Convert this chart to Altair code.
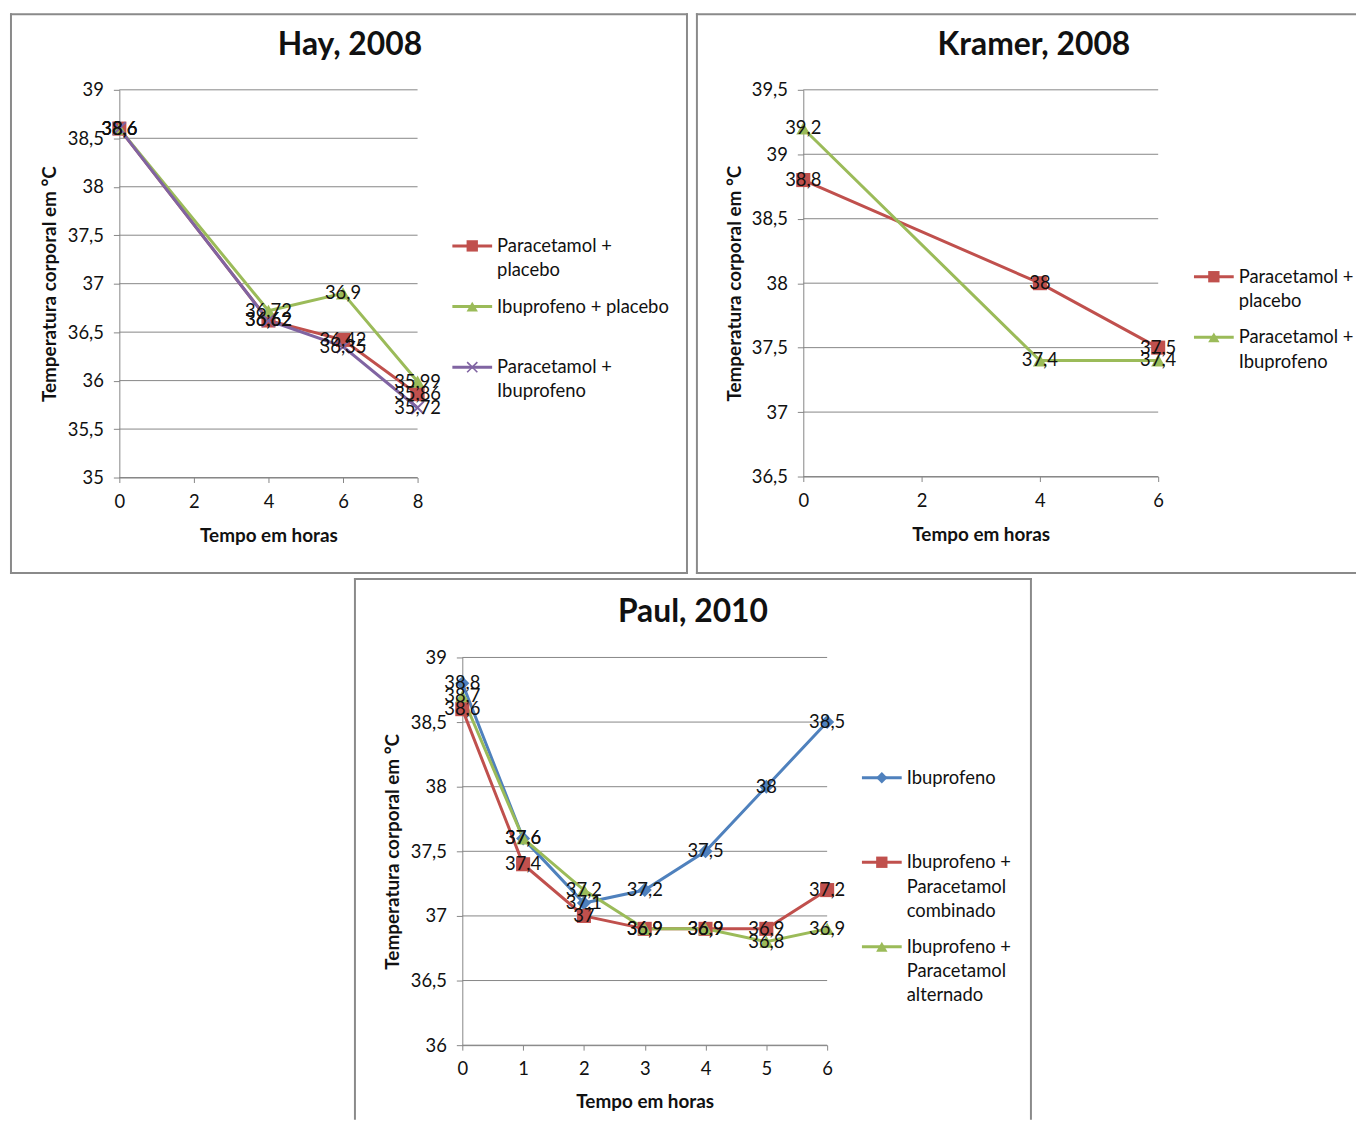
import altair as alt
import pandas as pd

FONT = "Lato"
RED, GREEN, PURPLE, BLUE = "#C0504D", "#9BBB59", "#8064A2", "#4F81BD"
GRAY = "#868686"
BORDER = "#8a8a8a"
XPATH = "M-1,-0.8L-0.8,-1L0,-0.2L0.8,-1L1,-0.8L0.2,0L1,0.8L0.8,1L0,0.2L-0.8,1L-1,0.8L-0.2,0Z"

# ---------------- data ----------------
hay_t = [0, 4, 6, 8]
hay_names = ["Paracetamol + placebo", "Ibuprofeno + placebo", "Paracetamol + Ibuprofeno"]
hay_pp = [38.6, 36.62, 36.42, 35.86]
hay_ip = [38.6, 36.72, 36.9, 35.99]
hay_pi = [38.6, 36.62, 36.35, 35.72]
hay_legend = ["Paracetamol +\nplacebo", "Ibuprofeno + placebo", "Paracetamol +\nIbuprofeno"]

kra_t = [0, 4, 6]
kra_names = ["Paracetamol + placebo", "Paracetamol + Ibuprofeno"]
kra_pp = [38.8, 38.0, 37.5]
kra_pi = [39.2, 37.4, 37.4]
kra_legend = ["Paracetamol +\nplacebo", "Paracetamol +\nIbuprofeno"]

paul_t = [0, 1, 2, 3, 4, 5, 6]
paul_names = ["Ibuprofeno", "Ibuprofeno + Paracetamol combinado", "Ibuprofeno + Paracetamol alternado"]
paul_i = [38.8, 37.6, 37.1, 37.2, 37.5, 38.0, 38.5]
paul_ipc = [38.6, 37.4, 37.0, 36.9, 36.9, 36.9, 37.2]
paul_ipa = [38.7, 37.6, 37.2, 36.9, 36.9, 36.8, 36.9]
paul_legend = ["Ibuprofeno", "Ibuprofeno +\nParacetamol\ncombinado", "Ibuprofeno +\nParacetamol\nalternado"]

LABEL_EXPR = "replace(format(datum.value, '.1~f'), '.', ',')"
TICK_FS = 18.5
DATA_FS = 18.5
LEG_FS = 18.5
AXT_FS = 19
TITLE_FS = 32
DY = -4  # vertical nudge of panel contents (not of the borders)


def one():
    return pd.DataFrame({"k": [0]})


def panel(title, t, names, vals, colors, shapes, legend_labels,
          xdom, xticks, ydom, yticks, L):
    rows = []
    for n, v in zip(names, vals):
        for ti, vi in zip(t, v):
            rows.append({"serie": n, "t": ti, "temp": vi})
    df = pd.DataFrame(rows)
    W, H = L["W"], L["H"]
    xr = L["xr"]
    yr = [L["yr"][0] + DY, L["yr"][1] + DY]
    xs = alt.Scale(domain=xdom, range=xr, nice=False, zero=False)
    ys = alt.Scale(domain=ydom, range=yr, nice=False, zero=False)
    xa = alt.Axis(title="Tempo em horas", values=xticks, grid=False,
                  offset=yr[0] - H, domainColor=GRAY, domainWidth=1,
                  tickColor=GRAY, tickSize=5, tickWidth=1,
                  labelFont=FONT, labelFontSize=TICK_FS, labelColor="#111",
                  labelPadding=10, labelFlush=False, labelOverlap=False,
                  labelExpr=LABEL_EXPR,
                  titleFont=FONT, titleFontSize=AXT_FS, titleFontWeight="bold",
                  titleColor="#111", titleX=(xr[0] + xr[1]) / 2,
                  titleY=L["xtitle_y"] + DY - yr[0], titleAlign="center",
                  titleBaseline="middle", titleAngle=0)
    ya = alt.Axis(title="Temperatura corporal em °C", values=yticks, grid=False,
                  offset=-xr[0], domainColor=GRAY, domainWidth=1,
                  tickColor=GRAY, tickSize=6, tickWidth=1,
                  labelFont=FONT, labelFontSize=TICK_FS, labelColor="#111",
                  labelPadding=10, labelFlush=False, labelOverlap=False,
                  labelExpr=LABEL_EXPR,
                  titleFont=FONT, titleFontSize=AXT_FS, titleFontWeight="bold",
                  titleColor="#111", titleX=L["ytitle_x"] - xr[0],
                  titleY=(yr[0] + yr[1]) / 2, titleAlign="center",
                  titleBaseline="middle", titleAngle=-90)
    X = alt.X("t:Q", scale=xs, axis=xa)
    Y = alt.Y("temp:Q", scale=ys, axis=ya)
    col = alt.Color("serie:N", scale=alt.Scale(domain=names, range=colors), legend=None)
    shp = alt.Shape("serie:N", scale=alt.Scale(domain=names, range=shapes), legend=None)

    grid = alt.Chart(pd.DataFrame({"g": yticks})).mark_rule(
        color=GRAY, strokeWidth=1).encode(
        y=alt.Y("g:Q", scale=ys, axis=ya),
        x=alt.XDatum(xdom[0], type="quantitative", scale=xs, axis=xa),
        x2=alt.X2Datum(xdom[1]))

    base = alt.Chart(df).transform_calculate(
        lbl="replace(format(datum.temp, '.2~f'), '.', ',')")
    lines = base.mark_line(strokeWidth=3).encode(
        x=X, y=Y, color=col, order=alt.Order("t:Q"))
    pts = base.mark_point(filled=True, opacity=1, size=200).encode(
        x=X, y=Y, color=col, shape=shp)
    lbls = base.mark_text(font=FONT, fontSize=DATA_FS, color="#111",
                          align="center", baseline="middle").encode(
        x=X, y=Y, text="lbl:N")

    layers = [grid, lines, pts, lbls]

    lx = L["leg_x"]
    for name, c, s, lab, ly in zip(names, colors, shapes, legend_labels, L["leg_rows"]):
        ly = ly + DY
        layers.append(alt.Chart(one()).mark_rule(strokeWidth=3, color=c).encode(
            x=alt.value(lx), x2=alt.value(lx + 40), y=alt.value(ly)))
        layers.append(alt.Chart(one()).mark_point(
            filled=True, opacity=1, size=130, shape=s, color=c).encode(
            x=alt.value(lx + 20), y=alt.value(ly)))
        layers.append(alt.Chart(one()).mark_text(
            font=FONT, fontSize=LEG_FS, color="#111", align="left",
            baseline="alphabetic", lineBreak="\n", lineHeight=24.5).encode(
            x=alt.value(lx + 45), y=alt.value(ly + 6), text=alt.value(lab)))

    layers.append(alt.Chart(one()).mark_text(
        font=FONT, fontSize=TITLE_FS, fontWeight="bold", color="#111",
        align="center", baseline="middle").encode(
        x=alt.value(L["title"][0]), y=alt.value(L["title"][1] + DY),
        text=alt.value(title)))

    # panel border (sides that the reference shows)
    for side in L["sides"]:
        if side == "top":
            enc = dict(x=alt.value(0), x2=alt.value(W), y=alt.value(1))
        elif side == "bottom":
            enc = dict(x=alt.value(0), x2=alt.value(W), y=alt.value(H - 1))
        elif side == "left":
            enc = dict(y=alt.value(0), y2=alt.value(H), x=alt.value(1))
        else:
            enc = dict(y=alt.value(0), y2=alt.value(H), x=alt.value(W - 1))
        layers.append(alt.Chart(one()).mark_rule(
            color=BORDER, strokeWidth=2).encode(**enc))

    return alt.layer(*layers).properties(
        width=W, height=H,
        view=alt.ViewBackground(stroke="transparent"))


hay = panel("Hay, 2008", hay_t, hay_names, [hay_pp, hay_ip, hay_pi],
            [RED, GREEN, PURPLE], ["square", "triangle-up", XPATH], hay_legend,
            [0, 8], [0, 2, 4, 6, 8], [35, 39],
            [35, 35.5, 36, 36.5, 37, 37.5, 38, 38.5, 39],
            dict(W=682, H=564, xr=[110, 410], yr=[471, 81], title=(342, 36),
                 xtitle_y=529, ytitle_x=40, leg_x=445, leg_rows=[238, 299, 360],
                 sides=["top", "left", "right", "bottom"]))

kramer = panel("Kramer, 2008", kra_t, kra_names, [kra_pp, kra_pi],
               [RED, GREEN], ["square", "triangle-up"], kra_legend,
               [0, 6], [0, 2, 4, 6], [36.5, 39.5],
               [36.5, 37, 37.5, 38, 38.5, 39, 39.5],
               dict(W=664, H=564, xr=[108, 465], yr=[470, 81], title=(340, 36),
                    xtitle_y=528, ytitle_x=39, leg_x=501, leg_rows=[269, 330],
                    sides=["top", "left", "bottom"]))

paul = panel("Paul, 2010", paul_t, paul_names, [paul_i, paul_ipc, paul_ipa],
             [BLUE, RED, GREEN], ["diamond", "square", "triangle-up"], paul_legend,
             [0, 6], [0, 1, 2, 3, 4, 5, 6], [36, 39],
             [36, 36.5, 37, 37.5, 38, 38.5, 39],
             dict(W=682, H=545, xr=[109, 476], yr=[474, 84], title=(341, 38),
                  xtitle_y=531, ytitle_x=39, leg_x=511, leg_rows=[205, 290, 375],
                  sides=["top", "left", "right"]))

spacer = alt.Chart(one()).mark_rule(opacity=0).encode(
    x=alt.value(0), x2=alt.value(10), y=alt.value(5)).properties(
    width=343, height=10, view=alt.ViewBackground(stroke="transparent"))

top = alt.hconcat(hay, kramer, spacing=4).resolve_scale(
    color="independent", shape="independent")
bottom = alt.hconcat(spacer, paul, spacing=0).resolve_scale(
    color="independent", shape="independent")
chart = alt.vconcat(top, bottom, spacing=0).resolve_scale(
    color="independent", shape="independent").properties(
    padding=0, background="white")

chart.save("out.html", embed_options={"renderer": "svg", "actions": False})
